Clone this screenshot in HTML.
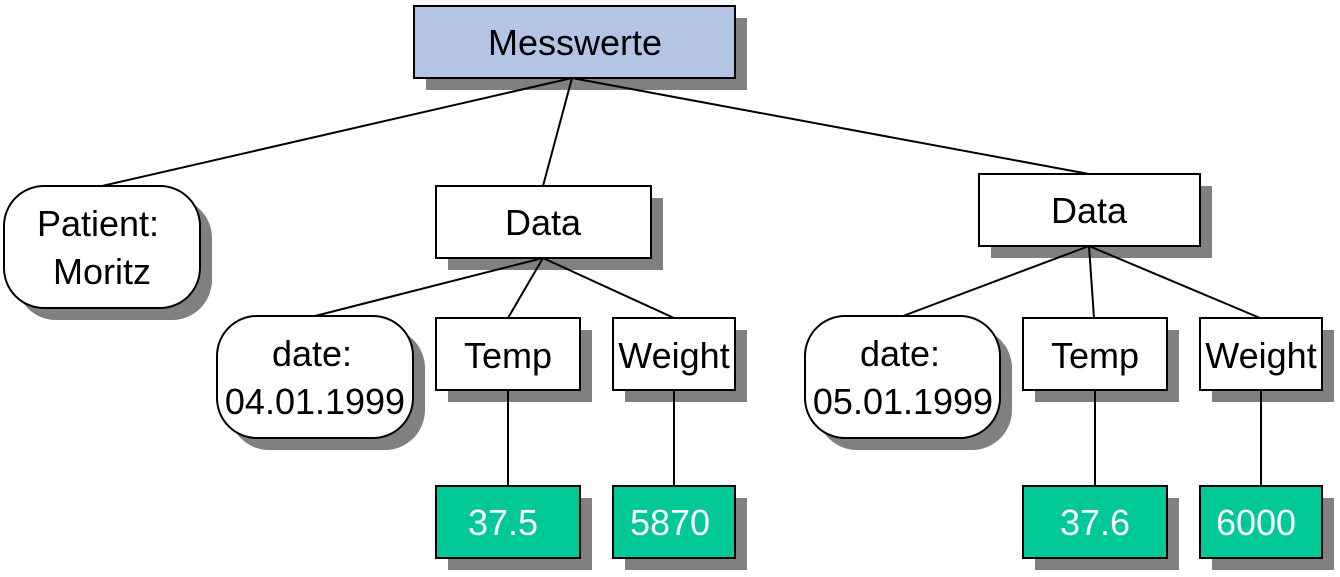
<!DOCTYPE html>
<html><head><meta charset="utf-8"><style>
html,body{margin:0;padding:0;background:#fff;}
svg{display:block}
text{font-family:"Liberation Sans",sans-serif;font-size:36px;fill:#000;}
.w{fill:#fff}
</style></head><body>
<svg width="1340" height="577" viewBox="0 0 1340 577" xmlns="http://www.w3.org/2000/svg">
<g fill="#808080">
<rect x="426" y="18" width="321" height="72"/>
<rect x="16" y="198" width="196" height="122" rx="40"/>
<rect x="448" y="198" width="215" height="72"/>
<rect x="991" y="186" width="221" height="72"/>
<rect x="229" y="328" width="196" height="122" rx="40"/>
<rect x="448" y="330" width="144" height="72"/>
<rect x="625" y="330" width="122" height="72"/>
<rect x="817" y="328" width="195" height="122" rx="40"/>
<rect x="1035" y="330" width="144" height="72"/>
<rect x="1212" y="330" width="122" height="72"/>
<rect x="448" y="498" width="144" height="72"/>
<rect x="625" y="498" width="122" height="72"/>
<rect x="1035" y="498" width="144" height="72"/>
<rect x="1212" y="498" width="122" height="72"/>
</g>
<g stroke="#000" stroke-width="2">
<line x1="572" y1="78" x2="102" y2="186"/>
<line x1="572" y1="78" x2="543" y2="186"/>
<line x1="572" y1="78" x2="1089" y2="174"/>
<line x1="543" y1="258" x2="315" y2="316"/>
<line x1="543" y1="258" x2="508" y2="318"/>
<line x1="543" y1="258" x2="674" y2="318"/>
<line x1="1089" y1="246" x2="903" y2="316"/>
<line x1="1089" y1="246" x2="1094" y2="318"/>
<line x1="1089" y1="246" x2="1260" y2="318"/>
<line x1="508" y1="390" x2="508" y2="486"/>
<line x1="674" y1="390" x2="674" y2="486"/>
<line x1="1095" y1="390" x2="1095" y2="486"/>
<line x1="1261" y1="390" x2="1261" y2="486"/>
</g>
<g stroke="#000" stroke-width="2">
<rect x="414" y="6" width="321" height="72" fill="#b4c4e4"/>
<rect x="4" y="186" width="196" height="122" rx="40" fill="#fff"/>
<rect x="436" y="186" width="215" height="72" fill="#fff"/>
<rect x="979" y="174" width="221" height="72" fill="#fff"/>
<rect x="217" y="316" width="196" height="122" rx="40" fill="#fff"/>
<rect x="436" y="318" width="144" height="72" fill="#fff"/>
<rect x="613" y="318" width="122" height="72" fill="#fff"/>
<rect x="805" y="316" width="195" height="122" rx="40" fill="#fff"/>
<rect x="1023" y="318" width="144" height="72" fill="#fff"/>
<rect x="1200" y="318" width="122" height="72" fill="#fff"/>
<rect x="436" y="486" width="144" height="72" fill="#00c896"/>
<rect x="613" y="486" width="122" height="72" fill="#00c896"/>
<rect x="1023" y="486" width="144" height="72" fill="#00c896"/>
<rect x="1200" y="486" width="122" height="72" fill="#00c896"/>
</g>
<g text-anchor="middle">
<text x="575" y="55">Messwerte</text>
<text x="98" y="236">Patient:</text>
<text x="102" y="284">Moritz</text>
<text x="543" y="235">Data</text>
<text x="1089" y="223">Data</text>
<text x="312" y="366">date:</text>
<text x="315" y="414">04.01.1999</text>
<text x="508" y="368">Temp</text>
<text x="674" y="368">Weight</text>
<text x="900" y="366">date:</text>
<text x="903" y="414">05.01.1999</text>
<text x="1095" y="368">Temp</text>
<text x="1261" y="368">Weight</text>
<text class="w" x="503" y="535">37.5</text>
<text class="w" x="670" y="535">5870</text>
<text class="w" x="1095" y="535">37.6</text>
<text class="w" x="1256" y="535">6000</text>
</g>
</svg>
</body></html>
